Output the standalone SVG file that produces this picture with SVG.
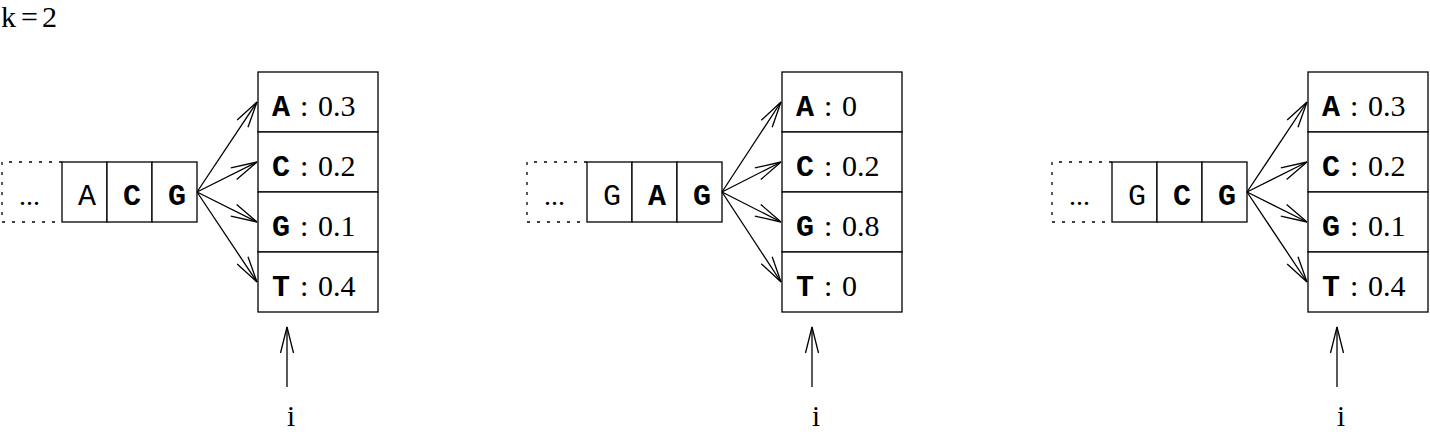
<svg xmlns="http://www.w3.org/2000/svg" width="1430" height="432" viewBox="0 0 1430 432">
<defs>
<style>
.box{fill:#fff;stroke:#000;stroke-width:1.3}
.dot{fill:none;stroke:#000;stroke-width:1.3;stroke-dasharray:3 7}
.conn{fill:none;stroke:#000;stroke-width:1.3;marker-end:url(#arr)}
.ser{font-family:"Liberation Serif","Times New Roman",serif;font-size:30px;fill:#000}
.lbl{font-size:29px}
.mono{font-family:"Liberation Mono","Courier New",monospace;font-size:30px;fill:#000}
.monob{font-family:"Liberation Mono","Courier New",monospace;font-size:30px;font-weight:bold;fill:#000}
.c{text-anchor:middle}
</style>
<marker id="arr" markerUnits="userSpaceOnUse" markerWidth="40" markerHeight="20" viewBox="-30 -10 32 20" refX="0" refY="0" orient="auto">
<path d="M-26,-6.5 L0,0 L-26,6.5" fill="none" stroke="#000" stroke-width="1.3"/>
</marker>
</defs>
<rect width="1430" height="432" fill="#fff"/>
<text class="ser" y="27"><tspan x="1">k</tspan><tspan x="21">=</tspan><tspan x="42">2</tspan></text>

<!-- Group 1 -->
<g id="seq1">
<path class="dot" d="M62,162 H2 V222 H62"/>
<text class="ser" x="19" y="205" style="font-size:28px">...</text>
<rect class="box" x="62" y="162" width="45" height="60"/>
<rect class="box" x="107" y="162" width="45" height="60"/>
<rect class="box" x="152" y="162" width="45" height="60"/>
<text class="mono c" x="87" y="205">A</text>
<text class="monob c" x="132" y="205">C</text>
<text class="monob c" x="177" y="205">G</text>
</g>
<g id="prob1">
<rect class="box" x="258" y="72" width="120" height="60"/>
<rect class="box" x="258" y="132" width="120" height="60"/>
<rect class="box" x="258" y="192" width="120" height="60"/>
<rect class="box" x="258" y="252" width="120" height="60"/>
<text class="monob" x="272" y="116">A</text><text class="ser" x="300" y="116">:</text><text class="ser" x="318" y="116">0.3</text>
<text class="monob" x="272" y="176">C</text><text class="ser" x="300" y="176">:</text><text class="ser" x="318" y="176">0.2</text>
<text class="monob" x="272" y="236">G</text><text class="ser" x="300" y="236">:</text><text class="ser" x="318" y="236">0.1</text>
<text class="monob" x="272" y="296">T</text><text class="ser" x="300" y="296">:</text><text class="ser" x="318" y="296">0.4</text>
</g>
<g id="label1"><text class="ser lbl c" x="291" y="426">i</text></g>

<!-- Group 2 -->
<g id="seq2">
<path class="dot" d="M587,162 H527 V222 H587"/>
<text class="ser" x="544" y="205" style="font-size:28px">...</text>
<rect class="box" x="587" y="162" width="45" height="60"/>
<rect class="box" x="632" y="162" width="45" height="60"/>
<rect class="box" x="677" y="162" width="45" height="60"/>
<text class="mono c" x="612" y="205">G</text>
<text class="monob c" x="657" y="205">A</text>
<text class="monob c" x="702" y="205">G</text>
</g>
<g id="prob2">
<rect class="box" x="782" y="72" width="120" height="60"/>
<rect class="box" x="782" y="132" width="120" height="60"/>
<rect class="box" x="782" y="192" width="120" height="60"/>
<rect class="box" x="782" y="252" width="120" height="60"/>
<text class="monob" x="796" y="116">A</text><text class="ser" x="824" y="116">:</text><text class="ser" x="842" y="116">0</text>
<text class="monob" x="796" y="176">C</text><text class="ser" x="824" y="176">:</text><text class="ser" x="842" y="176">0.2</text>
<text class="monob" x="796" y="236">G</text><text class="ser" x="824" y="236">:</text><text class="ser" x="842" y="236">0.8</text>
<text class="monob" x="796" y="296">T</text><text class="ser" x="824" y="296">:</text><text class="ser" x="842" y="296">0</text>
</g>
<g id="label2"><text class="ser lbl c" x="816" y="426">i</text></g>

<!-- Group 3 -->
<g id="seq3">
<path class="dot" d="M1112,162 H1052 V222 H1112"/>
<text class="ser" x="1069" y="205" style="font-size:28px">...</text>
<rect class="box" x="1112" y="162" width="45" height="60"/>
<rect class="box" x="1157" y="162" width="45" height="60"/>
<rect class="box" x="1202" y="162" width="45" height="60"/>
<text class="mono c" x="1137" y="205">G</text>
<text class="monob c" x="1182" y="205">C</text>
<text class="monob c" x="1227" y="205">G</text>
</g>
<g id="prob3">
<rect class="box" x="1308" y="72" width="120" height="60"/>
<rect class="box" x="1308" y="132" width="120" height="60"/>
<rect class="box" x="1308" y="192" width="120" height="60"/>
<rect class="box" x="1308" y="252" width="120" height="60"/>
<text class="monob" x="1322" y="116">A</text><text class="ser" x="1350" y="116">:</text><text class="ser" x="1368" y="116">0.3</text>
<text class="monob" x="1322" y="176">C</text><text class="ser" x="1350" y="176">:</text><text class="ser" x="1368" y="176">0.2</text>
<text class="monob" x="1322" y="236">G</text><text class="ser" x="1350" y="236">:</text><text class="ser" x="1368" y="236">0.1</text>
<text class="monob" x="1322" y="296">T</text><text class="ser" x="1350" y="296">:</text><text class="ser" x="1368" y="296">0.4</text>
</g>
<g id="label3"><text class="ser lbl c" x="1341" y="426">i</text></g>

<g id="connectors">
<line class="conn" x1="197" y1="192" x2="257" y2="102"/>
<line class="conn" x1="197" y1="192" x2="257" y2="162"/>
<line class="conn" x1="197" y1="192" x2="257" y2="222"/>
<line class="conn" x1="197" y1="192" x2="257" y2="282"/>
<line class="conn" x1="287" y1="387" x2="287" y2="327"/>
<line class="conn" x1="722" y1="192" x2="781" y2="102"/>
<line class="conn" x1="722" y1="192" x2="781" y2="162"/>
<line class="conn" x1="722" y1="192" x2="781" y2="222"/>
<line class="conn" x1="722" y1="192" x2="781" y2="282"/>
<line class="conn" x1="812" y1="387" x2="812" y2="327"/>
<line class="conn" x1="1247" y1="192" x2="1307" y2="102"/>
<line class="conn" x1="1247" y1="192" x2="1307" y2="162"/>
<line class="conn" x1="1247" y1="192" x2="1307" y2="222"/>
<line class="conn" x1="1247" y1="192" x2="1307" y2="282"/>
<line class="conn" x1="1337" y1="387" x2="1337" y2="327"/>
</g>
</svg>
